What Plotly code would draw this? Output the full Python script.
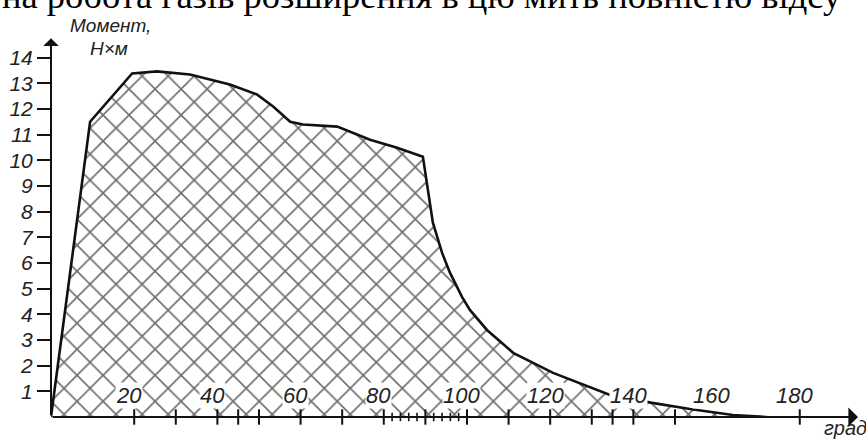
import plotly.graph_objects as go

# ---- data ----
angle_deg = [0, 9.4, 19.5, 25.5, 33.4, 43.0, 49.5, 53.4, 57.5, 60.6, 68.8, 76.7, 83.2,
             89.4, 90.6, 91.8, 94.0, 95.9, 98.8, 100.7, 104.8, 111.1, 120.7, 134.4,
             144.5, 153.6, 163.9, 172.0]
torque_nm = [0, 11.5, 13.38, 13.46, 13.34, 12.95, 12.56, 12.09, 11.5, 11.39, 11.31, 10.8, 10.49,
             10.14, 8.85, 7.57, 6.4, 5.62, 4.68, 4.17, 3.39, 2.5, 1.72, 0.86,
             0.55, 0.31, 0.08, 0.0]

x_major_ticks = [20, 30, 40, 45, 50, 60, 70, 80, 90, 100, 110, 120, 130, 135, 140, 150, 180]
x_minor_ticks = [82, 84, 86, 88, 92, 94, 96, 98]
x_tick_labels = [20, 40, 60, 80, 100, 120, 140, 160, 180]
y_tick_values = list(range(1, 15))

y_title_1 = "Момент,"
y_title_2 = "Н×м"
x_title = "град"
top_text = "на робота газів розширення в цю мить повністю відсу"

GOST = "Liberation Sans Narrow, Liberation Sans, Arial, sans-serif"
TXT = "#222222"

fig = go.Figure()

fig.add_trace(go.Scatter(
    x=angle_deg, y=torque_nm, mode="lines",
    line=dict(color="#111111", width=2.6),
    fill="tozeroy", fillcolor="white",
    fillpattern=dict(shape="x", size=18.4, solidity=0.17, fgcolor="#6e6e6e", bgcolor="white"),
    hoverinfo="skip", showlegend=False,
))

# x-axis ticks crossing the axis line
fig.add_trace(go.Scatter(
    x=x_major_ticks, y=[0] * len(x_major_ticks), mode="markers",
    marker=dict(symbol="line-ns", size=11, line=dict(color="#111111", width=2)),
    cliponaxis=False, hoverinfo="skip", showlegend=False,
))
fig.add_trace(go.Scatter(
    x=x_minor_ticks, y=[0] * len(x_minor_ticks), mode="markers",
    marker=dict(symbol="line-ns", size=6, line=dict(color="#111111", width=1.6)),
    cliponaxis=False, hoverinfo="skip", showlegend=False,
))

annotations = []
# axis arrows
annotations.append(dict(x=194, y=0, ax=0, ay=0, xref="x", yref="y", axref="x", ayref="y",
                        text="", showarrow=True, arrowhead=1, arrowsize=1.6, arrowwidth=2,
                        arrowcolor="#111111", standoff=0, startstandoff=0))
annotations.append(dict(x=0, y=14.75, ax=0, ay=0, xref="x", yref="y", axref="x", ayref="y",
                        text="", showarrow=True, arrowhead=1, arrowsize=1.3, arrowwidth=2,
                        arrowcolor="#111111", standoff=0, startstandoff=0))
# x tick labels
for v in x_tick_labels:
    annotations.append(dict(x=v, y=0, xref="x", yref="y", text=str(v), showarrow=False,
                            xanchor="center", yanchor="middle", yshift=22, xshift=-5,
                            bgcolor="white", borderpad=0,
                            font=dict(family=GOST, size=22, style="italic", color=TXT)))
# axis titles (paper coordinates)
annotations.append(dict(x=0.0743, y=1.031, xref="paper", yref="paper", text=y_title_1,
                        showarrow=False, xanchor="center", yanchor="middle",
                        font=dict(family=GOST, size=19, style="italic", color=TXT)))
annotations.append(dict(x=0.0719, y=0.971, xref="paper", yref="paper", text=y_title_2,
                        showarrow=False, xanchor="center", yanchor="middle",
                        font=dict(family=GOST, size=19, style="italic", color=TXT)))
annotations.append(dict(x=0.984, y=-0.029, xref="paper", yref="paper", text=x_title,
                        showarrow=False, xanchor="center", yanchor="middle",
                        font=dict(family=GOST, size=20, style="italic", color=TXT)))
# cropped text line at the very top (cut off in the reference as well)
annotations.append(dict(x=-51 / 807, y=1.110, xref="paper", yref="paper", text=top_text,
                        showarrow=False, xanchor="left", yanchor="middle",
                        font=dict(family="Liberation Serif, Times New Roman, serif", size=36.5,
                                  color="#000000")))

fig.update_layout(
    template="none",
    width=866, height=439,
    margin=dict(l=51, r=8, t=37, b=22, pad=0),
    paper_bgcolor="white", plot_bgcolor="white",
    showlegend=False,
    annotations=annotations,
    xaxis=dict(range=[0, 194], showgrid=False, zeroline=False, showline=False,
               showticklabels=False, ticks="", fixedrange=True),
    yaxis=dict(range=[0, 14.8], showgrid=False, zeroline=False, showline=False,
               tickmode="array", tickvals=y_tick_values, ticktext=[str(v) for v in y_tick_values],
               ticks="outside", ticklen=13, tickwidth=2, tickcolor="#111111",
               tickfont=dict(family=GOST, size=21, style="italic", color=TXT),
               automargin=False, fixedrange=True),
)

fig.write_html("out.html", config={"displayModeBar": False},
               post_script="document.body.style.margin='0px';")
